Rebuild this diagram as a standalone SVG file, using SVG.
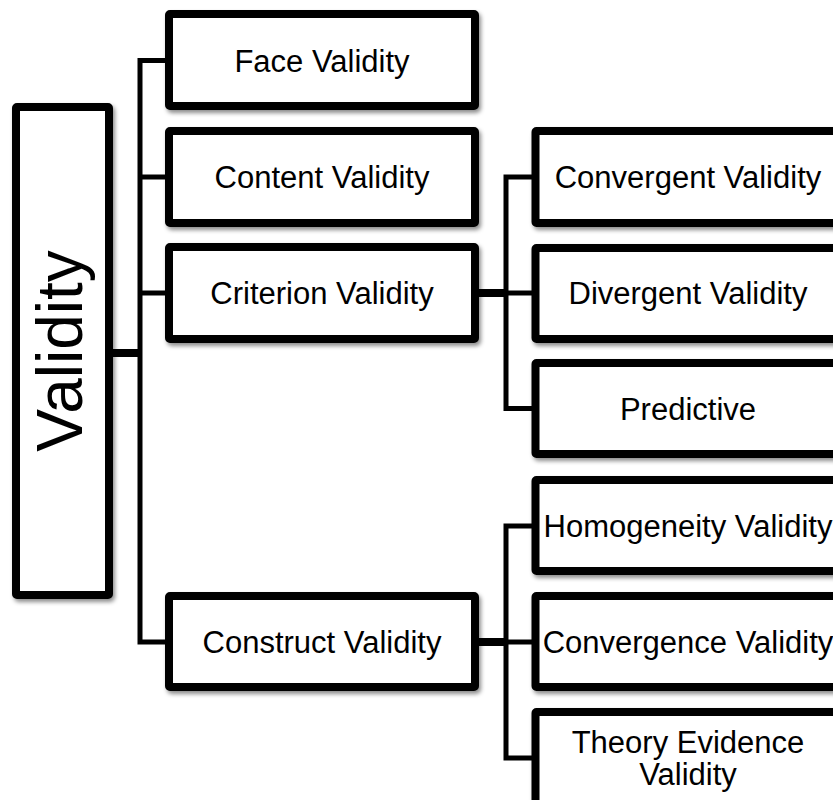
<svg xmlns="http://www.w3.org/2000/svg" width="833" height="800" viewBox="0 0 833 800">
  <defs>
    <filter id="shadow" x="-10%" y="-10%" width="130%" height="130%">
      <feDropShadow dx="2" dy="3" stdDeviation="2" flood-color="#000" flood-opacity="0.45"/>
    </filter>
    <style>
      .box { fill: #fff; stroke: #000; stroke-width: 8; filter: url(#shadow); }
      .lbl { font-family: "Liberation Sans", Arial, sans-serif; font-size: 31px; fill: #000; text-anchor: middle; }
      .root { font-family: "Liberation Sans", Arial, sans-serif; font-size: 64px; fill: #000; text-anchor: middle; }
      .trunk { fill: none; stroke: #000; stroke-width: 5; stroke-linejoin: miter; stroke-linecap: butt; }
      .stem { fill: none; stroke: #000; stroke-width: 8; stroke-linecap: butt; }
    </style>
  </defs>
  <rect width="833" height="800" fill="#fff"/>

  <!-- connectors -->
  <g id="connectors">
    <!-- root to first level -->
    <path class="stem" d="M112 353 H140"/>
    <path class="trunk" d="M166 60.5 H140 V642 H166"/>
    <path class="trunk" d="M140 177 H166"/>
    <path class="trunk" d="M140 293 H166"/>
    <!-- criterion branch -->
    <path class="stem" d="M479 293 H506"/>
    <path class="trunk" d="M532 177 H506 V408.5 H532"/>
    <path class="trunk" d="M506 293 H532"/>
    <!-- construct branch -->
    <path class="stem" d="M479 642 H506"/>
    <path class="trunk" d="M532 526 H506 V758 H532"/>
    <path class="trunk" d="M506 642 H532"/>
  </g>

  <!-- root -->
  <g id="validity">
    <rect class="box" x="16" y="107" width="93" height="488" rx="1"/>
    <text class="root" transform="translate(82 351) rotate(-90)">Validity</text>
  </g>

  <!-- first level -->
  <g id="face-validity">
    <rect class="box" x="169" y="14" width="306" height="92" rx="1"/>
    <text class="lbl" x="322" y="71.5">Face Validity</text>
  </g>
  <g id="content-validity">
    <rect class="box" x="169" y="131" width="306" height="92" rx="1"/>
    <text class="lbl" x="322" y="188">Content Validity</text>
  </g>
  <g id="criterion-validity">
    <rect class="box" x="169" y="247" width="306" height="92" rx="1"/>
    <text class="lbl" x="322" y="304">Criterion Validity</text>
  </g>
  <g id="construct-validity">
    <rect class="box" x="169" y="596" width="306" height="91" rx="1"/>
    <text class="lbl" x="322" y="653">Construct Validity</text>
  </g>

  <!-- criterion children -->
  <g id="convergent-validity">
    <rect class="box" x="535.5" y="131" width="306" height="92" rx="1"/>
    <text class="lbl" x="688" y="188">Convergent Validity</text>
  </g>
  <g id="divergent-validity">
    <rect class="box" x="535.5" y="248" width="306" height="91" rx="1"/>
    <text class="lbl" x="688" y="304">Divergent Validity</text>
  </g>
  <g id="predictive">
    <rect class="box" x="535.5" y="363" width="306" height="91" rx="1"/>
    <text class="lbl" x="688" y="419.5">Predictive</text>
  </g>

  <!-- construct children -->
  <g id="homogeneity-validity">
    <rect class="box" x="535.5" y="480" width="306" height="91" rx="1"/>
    <text class="lbl" x="688" y="537">Homogeneity Validity</text>
  </g>
  <g id="convergence-validity">
    <rect class="box" x="535.5" y="596" width="306" height="91" rx="1"/>
    <text class="lbl" x="688" y="653">Convergence Validity</text>
  </g>
  <g id="theory-evidence-validity">
    <rect class="box" x="535.5" y="712" width="306" height="92" rx="1"/>
    <text class="lbl" x="688" y="753">Theory Evidence</text>
    <text class="lbl" x="688" y="785">Validity</text>
  </g>
</svg>
